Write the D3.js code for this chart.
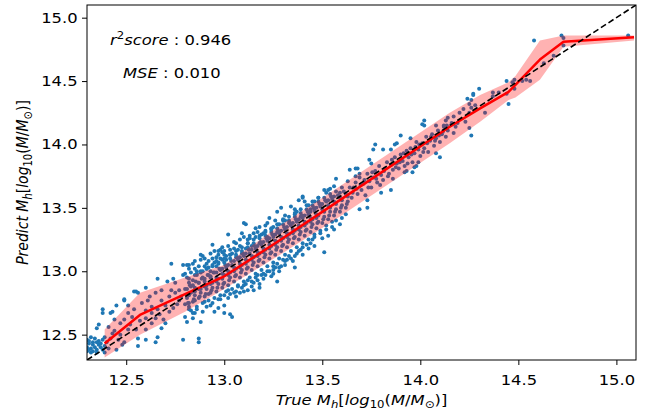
<!DOCTYPE html>
<html>
<head>
<meta charset="utf-8">
<script src="https://cdn.jsdelivr.net/npm/d3@7"></script>
<style>
	body { margin: 0; background: #fff; }
	text { font-family: "DejaVu Sans", sans-serif; fill: #000; }
</style>
</head>
<body>
<div id="chart"></div>
<script>
// Binned median of predicted vs true mass, with its spread
const lineX = [12.39, 12.57, 12.80, 13.00, 13.285, 13.54, 14.15, 14.305, 14.45, 14.485, 14.61, 14.73, 15.09];
const lineY = [12.43, 12.655, 12.82, 12.96, 13.246, 13.51, 14.14, 14.285, 14.415, 14.47, 14.67, 14.81, 14.845];
const bandLow = [12.32, 12.50, 12.68, 12.86, 13.13, 13.38, 14.01, 14.18, 14.35, 14.37, 14.51, 14.77, 14.82];
const bandHigh = [12.54, 12.83, 12.95, 13.05, 13.36, 13.62, 14.25, 14.39, 14.49, 14.54, 14.82, 14.86, 14.86];

const ticks = [12.5, 13.0, 13.5, 14.0, 14.5, 15.0];
const r2Score = "0.946";
const mseScore = "0.010";

// Scatter points [true, predicted]
const edgeCluster = [
	[12.30,12.40],[12.31,12.43],[12.30,12.37],[12.32,12.39],[12.31,12.45],[12.33,12.42],[12.32,12.36],
	[12.34,12.40],[12.33,12.44],[12.35,12.38],[12.34,12.47],[12.36,12.42],[12.35,12.36],[12.37,12.40],
	[12.36,12.45],[12.38,12.38],[12.37,12.43],[12.39,12.41],[12.38,12.46],[12.30,12.46],[12.32,12.48],
	[12.31,12.38],[12.35,12.44],[12.39,12.36],[12.40,12.44],[12.41,12.39],[12.33,12.37]
];
const lowTail = [
	[12.35,12.55],[12.36,12.58],[12.38,12.67],[12.38,12.70],[12.42,12.67],[12.43,12.68],[12.45,12.73],
	[12.49,12.77],[12.51,12.73],[12.55,12.84],[12.56,12.83],[12.60,12.87],[12.66,12.94],[12.71,12.92],
	[12.74,12.94],[12.73,13.06],[12.75,12.91],[12.79,13.05],[12.82,13.05],[12.79,12.97],[12.46,12.46],
	[12.45,12.38],[12.48,12.42],[12.49,12.44],[12.55,12.54],[12.56,12.41],[12.51,12.54],[12.60,12.54],
	[12.60,12.46],[12.65,12.44],[12.66,12.48],[12.68,12.55],[12.70,12.59],[12.65,12.63],[12.63,12.59],
	[12.60,12.63],[12.51,12.67],[12.53,12.64],[12.72,12.68],[12.74,12.71],[12.67,12.66],[12.44,12.62],
	[12.47,12.59],[12.41,12.56],[12.43,12.51],[12.39,12.48],[12.58,12.75],[12.61,12.77],[12.63,12.72],
	[12.68,12.77],[12.72,12.80],[12.75,12.83],[12.77,12.77],[12.68,12.85],[12.73,12.85],[12.65,12.83],
	[12.63,12.67],[12.70,12.73],[12.77,12.85],[12.60,12.69],[12.49,12.62],[12.49,12.78],[12.54,12.84],
	[12.42,12.47],[12.44,12.53],[12.47,12.50],[12.52,12.58],[12.54,12.70],[12.57,12.61],[12.62,12.80],
	[12.66,12.70],[12.69,12.62],[12.76,12.74],[12.78,12.80],[12.56,12.47]
];
const coreFringe = [
	[12.80,12.64],[12.81,12.60],[12.84,12.63],[12.85,12.67],[12.88,12.60],[12.87,12.47],[12.87,12.44],
	[12.79,12.46],[12.83,12.69],[12.89,12.68],[12.95,12.68],[12.97,12.71],[13.00,12.67],[13.03,12.66],
	[12.91,12.72],[12.94,12.75],[13.00,12.73],[12.82,12.75],[12.85,12.77],[13.04,12.64],[12.84,12.67],
	[12.85,13.08],[12.88,13.09],[12.89,13.12],[12.91,13.06],[12.93,13.14],[12.94,13.10],[12.97,13.13],
	[12.99,13.15],[12.85,13.02],[12.94,13.21],[12.95,13.16],[12.88,13.13],[12.98,13.10],[13.03,13.17],
	[12.99,13.19],[12.81,13.05],[13.40,13.59],[13.38,13.56],[13.27,13.47],[13.29,13.50],[13.22,13.38],
	[13.10,13.38],[13.09,13.30],[13.02,13.29],[13.05,13.23],[13.16,13.34],[13.18,13.35],[13.11,13.37],
	[13.15,13.30],[13.34,13.51],[13.46,13.55],[13.51,13.15],[13.39,13.17],[13.35,13.08],[13.32,13.09],
	[13.29,13.04],[13.25,12.98],[13.20,12.94],[13.17,12.93],[13.14,12.88],[13.12,12.85],[13.08,12.83],
	[13.06,12.80],[13.45,13.25],[13.42,13.21],[13.24,12.96],[13.25,13.01],[12.96,13.08],[13.01,13.12],
	[13.07,13.17],[13.12,13.22],[13.19,13.29],[13.24,13.33],[13.31,13.40],[13.36,13.45],[13.43,13.52],
	[13.48,13.58],[13.53,13.64],[13.13,13.26],[13.21,13.32],[13.28,13.37],[13.04,13.14],[12.98,12.78],
	[13.03,12.82],[13.09,12.87],[13.16,12.95],[13.22,13.00],[13.27,13.06],[13.33,13.12],[13.38,13.16],
	[13.44,13.22],[13.49,13.30],[13.55,13.35],[13.60,13.42],[13.11,12.90],[13.19,12.97],[13.30,13.09],
	[12.86,13.00],[12.90,13.04],[12.92,13.08],[12.96,13.11],[13.00,13.13],[13.02,13.20],[13.06,13.22],
	[13.08,13.25],[13.13,13.28],[13.17,13.31],[13.21,13.36],[13.26,13.40],[13.31,13.44],[13.36,13.49],
	[13.41,13.55],[12.83,12.99],[12.98,13.17],[13.10,13.27],[13.23,13.42],[13.02,12.79],[13.06,12.84],
	[13.10,12.84],[13.14,12.92],[13.18,12.90],[13.21,12.97],[13.26,13.03],[13.31,13.05],[13.36,13.12],
	[13.40,13.19],[13.46,13.27],[13.52,13.33],[13.57,13.40],[13.62,13.45],[13.28,13.00],[13.15,12.85]
];
const coreHalo = [
	[12.80,12.98],[12.82,13.02],[12.84,13.06],[12.86,12.97],[12.87,13.04],[12.89,13.00],[12.90,13.10],
	[12.92,13.03],[12.93,13.00],[12.95,13.07],[12.96,13.04],[12.97,13.16],[12.99,13.09],[13.00,13.16],
	[13.01,13.09],[13.03,13.13],[13.05,13.18],[13.06,13.11],[13.08,13.20],[13.09,13.14],[13.11,13.18],
	[13.12,13.25],[13.14,13.20],[13.16,13.27],[13.18,13.22],[13.20,13.30],[13.22,13.27],[13.25,13.35],
	[13.27,13.31],[13.30,13.41],[13.33,13.38],[13.37,13.47],[13.39,13.43],[13.44,13.49],[13.49,13.53],
	[12.82,12.72],[12.86,12.70],[12.90,12.76],[12.93,12.73],[12.97,12.78],[13.00,12.81],[13.02,12.85],
	[13.05,12.83],[13.07,12.88],[13.10,12.89],[13.12,12.93],[13.15,12.91],[13.17,12.97],[13.20,12.98],
	[13.23,13.00],[13.25,13.04],[13.28,13.03],[13.31,13.08],[13.34,13.10],[13.37,13.14],[13.40,13.13],
	[13.43,13.18],[13.46,13.20],[13.50,13.26],[13.53,13.28],[13.56,13.33],[13.59,13.37],[13.27,12.92],
	[13.18,12.87],[13.36,13.03]
];
const core = [
	[12.80,12.74],[12.81,12.79],[12.80,12.86],[12.82,12.91],[12.81,12.95],[12.83,12.83],[12.82,12.70],[12.83,12.88],
	[12.84,12.76],[12.85,12.81],[12.84,12.93],[12.86,12.98],[12.85,12.87],[12.86,12.72],[12.84,12.84],
	[12.87,12.79],[12.88,12.83],[12.87,12.91],[12.89,12.95],[12.88,13.00],[12.89,12.75],[12.87,12.86],
	[12.90,12.80],[12.91,12.86],[12.90,12.92],[12.92,12.97],[12.91,13.02],[12.92,12.77],[12.90,12.88],[12.92,12.82],
	[12.93,12.83],[12.94,12.87],[12.93,12.95],[12.95,12.99],[12.94,13.04],[12.95,12.79],[12.93,12.90],
	[12.96,12.84],[12.97,12.90],[12.96,12.95],[12.98,13.01],[12.97,13.06],[12.98,12.81],[12.96,12.92],
	[12.99,12.87],[13.00,12.91],[12.99,12.98],[13.01,13.03],[13.00,13.07],[13.01,12.84],[12.99,12.94],
	[13.02,12.89],[13.03,12.95],[13.02,13.00],[13.04,13.05],[13.03,13.10],[13.04,12.86],[13.02,12.97],
	[13.05,12.92],[13.06,12.97],[13.05,13.03],[13.07,13.09],[13.06,13.13],[13.07,12.89],[13.05,13.00],
	[13.08,12.95],[13.09,13.01],[13.08,13.06],[13.10,13.12],[13.09,13.16],[13.10,12.92],[13.08,13.03],
	[13.11,12.98],[13.12,13.03],[13.11,13.09],[13.13,13.14],[13.12,13.19],[13.13,12.95],[13.11,13.06],
	[13.14,13.01],[13.15,13.07],[13.14,13.12],[13.16,13.18],[13.15,13.22],[13.16,12.98],[13.14,13.09],
	[13.17,13.04],[13.18,13.09],[13.17,13.15],[13.19,13.21],[13.18,13.26],[13.19,13.01],[13.17,13.12],
	[13.20,13.07],[13.21,13.13],[13.20,13.18],[13.22,13.24],[13.21,13.28],[13.22,13.04],[13.20,13.15],
	[13.23,13.10],[13.24,13.15],[13.23,13.21],[13.25,13.27],[13.24,13.31],[13.25,13.07],[13.23,13.18],
	[13.26,13.13],[13.27,13.19],[13.26,13.24],[13.28,13.30],[13.27,13.34],[13.28,13.10],[13.26,13.21],
	[13.29,13.16],[13.30,13.21],[13.29,13.27],[13.31,13.33],[13.30,13.37],[13.31,13.13],[13.29,13.24],
	[13.32,13.19],[13.33,13.25],[13.32,13.30],[13.34,13.36],[13.33,13.40],[13.34,13.16],[13.32,13.27],
	[13.35,13.22],[13.36,13.27],[13.35,13.33],[13.37,13.39],[13.36,13.43],[13.37,13.19],[13.35,13.30],
	[13.38,13.25],[13.39,13.31],[13.38,13.36],[13.40,13.42],[13.39,13.46],[13.40,13.22],[13.38,13.33],
	[13.41,13.28],[13.42,13.33],[13.41,13.39],[13.43,13.45],[13.42,13.49],[13.43,13.25],[13.41,13.36],
	[13.44,13.31],[13.45,13.37],[13.44,13.42],[13.46,13.48],[13.45,13.52],[13.46,13.29],[13.44,13.39],
	[13.47,13.34],[13.48,13.39],[13.47,13.45],[13.49,13.51],[13.48,13.55],[13.49,13.32],[13.47,13.42],
	[13.50,13.38],[13.51,13.43],[13.50,13.49],[13.52,13.55],[13.51,13.58],[13.52,13.36],
	[13.53,13.41],[13.54,13.47],[13.53,13.52],[13.55,13.57],[13.54,13.61],[13.55,13.39],
	[13.56,13.44],[13.57,13.49],[13.56,13.55],[13.58,13.60],[13.57,13.63],
	[13.59,13.47],[13.60,13.52],[13.59,13.58],[13.61,13.63],[13.60,13.66],
	[13.62,13.50],[13.63,13.55],[13.62,13.61],[13.64,13.66]
];
const coreInner = [
	[12.815,12.75],[12.82,12.81],[12.81,12.86],[12.825,12.89],[12.82,12.94],
	[12.845,12.78],[12.85,12.84],[12.84,12.89],[12.855,12.92],[12.85,12.97],
	[12.875,12.80],[12.88,12.86],[12.87,12.91],[12.885,12.94],[12.88,12.99],
	[12.905,12.82],[12.91,12.89],[12.90,12.94],[12.915,12.97],[12.91,13.02],
	[12.935,12.85],[12.94,12.91],[12.93,12.96],[12.945,12.99],[12.94,13.05],
	[12.965,12.87],[12.97,12.94],[12.96,12.99],[12.975,13.02],[12.97,13.07],
	[12.995,12.90],[13.00,12.97],[12.99,13.02],[13.005,13.05],[13.00,13.10],
	[13.025,12.93],[13.03,12.99],[13.02,13.05],[13.035,13.08],[13.03,13.13],
	[13.055,12.96],[13.06,13.02],[13.05,13.08],[13.065,13.11],[13.06,13.16],
	[13.085,12.99],[13.09,13.05],[13.08,13.11],[13.095,13.14],[13.09,13.19],
	[13.115,13.02],[13.12,13.08],[13.11,13.14],[13.125,13.17],[13.12,13.22],
	[13.145,13.05],[13.15,13.11],[13.14,13.17],[13.155,13.20],[13.15,13.25],
	[13.175,13.08],[13.18,13.14],[13.17,13.20],[13.185,13.23],[13.18,13.28],
	[13.205,13.11],[13.21,13.17],[13.20,13.23],[13.215,13.26],[13.21,13.31],
	[13.235,13.14],[13.24,13.20],[13.23,13.26],[13.245,13.29],[13.24,13.34],
	[13.265,13.17],[13.27,13.23],[13.26,13.29],[13.275,13.32],[13.27,13.37],
	[13.295,13.20],[13.30,13.26],[13.29,13.32],[13.305,13.35],[13.30,13.40],
	[13.325,13.23],[13.33,13.29],[13.32,13.35],[13.335,13.38],[13.33,13.43],
	[13.355,13.26],[13.36,13.32],[13.35,13.38],[13.365,13.41],[13.36,13.46],
	[13.385,13.29],[13.39,13.35],[13.38,13.41],[13.395,13.44],[13.39,13.49],
	[13.415,13.32],[13.42,13.38],[13.41,13.44],[13.425,13.47],[13.42,13.52],
	[13.445,13.35],[13.45,13.41],[13.44,13.47],[13.455,13.50],[13.45,13.55],
	[13.475,13.38],[13.48,13.44],[13.47,13.50],[13.485,13.53],[13.48,13.58],
	[13.505,13.41],[13.51,13.47],[13.50,13.53],[13.515,13.56],
	[13.535,13.44],[13.54,13.50],[13.53,13.56],[13.545,13.59],
	[13.565,13.47],[13.57,13.53],[13.56,13.59],
	[13.595,13.50],[13.60,13.56],[13.59,13.62],
	[13.625,13.53],[13.63,13.59]
];
const upperTail = [
	[13.65,13.58],[13.66,13.66],[13.67,13.70],[13.68,13.61],[13.69,13.74],[13.70,13.64],[13.71,13.69],
	[13.72,13.60],[13.73,13.77],[13.74,13.71],[13.75,13.66],[13.76,13.74],[13.77,13.79],[13.78,13.70],
	[13.79,13.83],[13.80,13.76],[13.81,13.72],[13.82,13.81],[13.83,13.86],[13.84,13.77],[13.85,13.84],
	[13.86,13.80],[13.87,13.90],[13.88,13.85],[13.89,13.81],[13.90,13.92],[13.91,13.87],[13.92,13.83],
	[13.93,13.95],[13.94,13.90],[13.95,13.97],[13.96,13.86],[13.97,13.93],[13.98,14.02],[13.99,13.96],
	[14.00,13.91],[14.01,14.01],[14.02,13.97],[14.03,14.06],[14.04,13.94],[14.05,14.03],[14.06,14.08],
	[14.07,13.99],[14.08,14.05],[14.09,14.11],[14.10,14.02],[14.11,14.08],[14.12,14.14],[14.13,14.06],
	[14.14,14.11],[14.16,14.17],[14.17,14.09],[14.18,14.14],
	[13.655,13.62],[13.675,13.65],[13.695,13.68],[13.715,13.72],[13.735,13.66],[13.755,13.78],
	[13.775,13.73],[13.795,13.68],[13.815,13.79],[13.835,13.75],[13.855,13.88],[13.875,13.82],
	[13.895,13.86],[13.915,13.93],[13.935,13.85],[13.955,13.92],[13.975,13.98],[13.995,14.00],
	[14.015,13.94],[14.035,14.01],[14.055,14.06],[14.075,14.03],[14.095,14.07],[14.115,14.10],[14.135,14.15],
	[13.77,14.00],[13.76,13.96],[13.88,14.01],[13.90,14.07],[13.74,13.88],[13.75,13.85],[13.67,13.81],
	[13.64,13.80],[13.57,13.73],[13.56,13.67],[13.51,13.64],[13.52,13.62],[13.54,13.65],[13.40,13.58],
	[13.86,13.73],[13.85,13.64],[13.80,13.62],[13.73,13.50],[13.69,13.49],[13.93,13.79],[13.97,13.82],
	[13.98,13.83],[14.10,13.90],[14.08,13.93],[14.02,14.19],[14.02,14.15],[13.95,14.05],[13.85,13.96],
	[13.87,14.00],[13.81,13.96],[13.96,13.78],[13.92,13.78],[13.99,13.86],[13.68,13.81],[13.67,13.75],
	[13.63,13.71],[13.69,13.77],[13.73,13.56]
];
const topTail = [
	[14.30,14.44],[14.27,14.40],[14.24,14.36],[14.37,14.41],[14.40,14.41],[14.37,14.38],[14.33,14.25],
	[14.26,14.35],[14.25,14.32],[14.26,14.29],[14.22,14.28],[14.20,14.25],[14.17,14.22],[14.13,14.19],
	[14.14,14.21],[14.12,14.15],[14.16,14.16],[14.19,14.17],[14.25,14.13],[14.23,14.18],[14.01,14.16],
	[14.08,14.15],[14.28,14.31],[14.25,14.25],[14.27,14.39],[14.26,14.07],[14.44,14.50],[14.44,14.40],
	[14.48,14.44],[14.45,14.32],[14.47,14.49],[14.48,14.51],[14.52,14.50],[14.54,14.51],[14.56,14.50],
	[14.58,14.82],[14.63,14.64],[14.68,14.70],[14.73,14.78],[14.72,14.86],[14.73,14.84],[15.06,14.86]
];

const width = 647,
	height = 413,
	marginTop = 5,
	marginRight = 11,
	marginBottom = 53,
	marginLeft = 87;
// the picture is a little wider than tall, so text is drawn stretched sideways
const stretch = 1.17;

const x = d3.scaleLinear().domain([12.3, 15.1]).range([marginLeft, width - marginRight]);
const y = d3.scaleLinear().domain([12.3, 15.1]).range([height - marginBottom, marginTop]);

const svg = d3
	.select("#chart")
	.append("svg")
	.attr("width", width)
	.attr("height", height);

svg.append("defs")
	.append("clipPath")
	.attr("id", "plot-clip")
	.append("rect")
	.attr("x", marginLeft)
	.attr("y", marginTop)
	.attr("width", width - marginLeft - marginRight)
	.attr("height", height - marginTop - marginBottom);

const plot = svg.append("g").attr("clip-path", "url(#plot-clip)");

// Scatter
const allPoints = [].concat(edgeCluster, lowTail, coreFringe, coreHalo, core, coreInner, upperTail, topTail);
plot.append("g")
	.selectAll("circle")
	.data(allPoints)
	.join("circle")
	.attr("cx", (d) => x(d[0]))
	.attr("cy", (d) => y(d[1]))
	.attr("r", 2)
	.attr("fill", "#1f77b4");

// Spread band
const band = lineX.map((v, i) => ({ x: v, lo: bandLow[i], hi: bandHigh[i], m: lineY[i] }));
plot.append("path")
	.datum(band)
	.attr("fill", "red")
	.attr("fill-opacity", 0.3)
	.attr("d", d3.area().x((d) => x(d.x)).y0((d) => y(d.lo)).y1((d) => y(d.hi)));

// Median line
plot.append("path")
	.datum(band)
	.attr("fill", "none")
	.attr("stroke", "red")
	.attr("stroke-width", 2.5)
	.attr("stroke-linejoin", "round")
	.attr("d", d3.line().x((d) => x(d.x)).y((d) => y(d.m)));

// One-to-one line
plot.append("line")
	.attr("x1", x(12.3))
	.attr("y1", y(12.3))
	.attr("x2", x(15.1))
	.attr("y2", y(15.1))
	.attr("stroke", "#000")
	.attr("stroke-width", 1.6)
	.attr("stroke-dasharray", "6,3");

// Axes
svg.append("g")
	.attr("transform", `translate(0,${height - marginBottom})`)
	.call(d3.axisBottom(x).tickValues(ticks).tickFormat(d3.format(".1f")).tickSize(5).tickPadding(10).tickSizeOuter(0))
	.call((g) => g.select(".domain").remove());
svg.append("g")
	.attr("transform", `translate(${marginLeft},0)`)
	.call(d3.axisLeft(y).tickValues(ticks).tickFormat(d3.format(".1f")).tickSize(5).tickPadding(3).tickSizeOuter(0))
	.call((g) => g.select(".domain").remove());
svg.selectAll(".tick line").attr("stroke", "#000").attr("stroke-width", 1);
svg.selectAll(".tick text")
	.attr("font-family", "DejaVu Sans")
	.attr("font-size", 14)
	.attr("fill", "#000")
	.attr("transform", `scale(${stretch},1)`);

svg.append("rect")
	.attr("x", marginLeft)
	.attr("y", marginTop)
	.attr("width", width - marginLeft - marginRight)
	.attr("height", height - marginTop - marginBottom)
	.attr("fill", "none")
	.attr("stroke", "#000")
	.attr("stroke-width", 1);

// Math-like label: italic words, upright brackets and digits, subscripts
function massLabel(t, first) {
	const it = (s) => t.append("tspan").style("font-style", "italic").text(s);
	const sub = (s, italic) =>
		t.append("tspan").attr("dy", 3).attr("font-size", 10).style("font-style", italic ? "italic" : "normal").text(s);
	const up = (s, dy) => t.append("tspan").attr("dy", dy || 0).text(s);
	it(first + " M");
	sub("h", true);
	up("[", -3);
	it("log");
	sub("10");
	up("(", -3);
	it("M");
	up("/");
	it("M");
	sub("\u2299");
	up(")]", -3);
}

const xLabel = svg.append("g")
	.attr("transform", `translate(${(marginLeft + width - marginRight) / 2},405) scale(${stretch},1)`)
	.append("text")
	.attr("text-anchor", "middle")
	.attr("font-size", 14);
massLabel(xLabel, "True");

const yLabel = svg.append("g")
	.attr("transform", `translate(28,${(marginTop + height - marginBottom) / 2}) scale(${stretch},1) rotate(-90)`)
	.append("text")
	.attr("text-anchor", "middle")
	.attr("font-size", 14);
massLabel(yLabel, "Predict");

// Scores
const r2 = svg.append("g")
	.attr("transform", `translate(110,45) scale(${stretch},1)`)
	.append("text")
	.attr("font-size", 14);
r2.append("tspan").style("font-style", "italic").text("r");
r2.append("tspan").attr("dy", -6).attr("font-size", 10).text("2");
r2.append("tspan").attr("dy", 6).style("font-style", "italic").text("score");
r2.append("tspan").text(" : " + r2Score);

const mse = svg.append("g")
	.attr("transform", `translate(123,78) scale(${stretch},1)`)
	.append("text")
	.attr("font-size", 14);
mse.append("tspan").style("font-style", "italic").text("MSE");
mse.append("tspan").text(" : " + mseScore);
</script>
</body>
</html>
